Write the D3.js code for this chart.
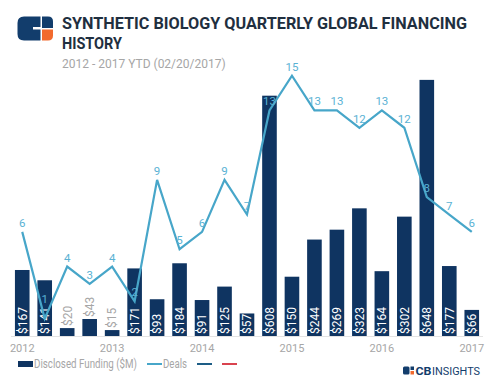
<!DOCTYPE html>
<html>
<head>
	<script src="https://cdn.jsdelivr.net/npm/d3@7"></script>
	<style>
		html, body {
			padding: 0;
			margin: 0;
			background: #fff;
		}
		text { font-family: Roboto, "Noto Sans", sans-serif; }
	</style>
</head>
<body>
	<script>
		var width = 489, height = 389;

		// data
		var quarters = ["2012 Q1", "2012 Q2", "2012 Q3", "2012 Q4",
		                "2013 Q1", "2013 Q2", "2013 Q3", "2013 Q4",
		                "2014 Q1", "2014 Q2", "2014 Q3", "2014 Q4",
		                "2015 Q1", "2015 Q2", "2015 Q3", "2015 Q4",
		                "2016 Q1", "2016 Q2", "2016 Q3", "2016 Q4",
		                "2017 Q1"];
		var funding = [167, 141, 20, 43, 15, 171, 93, 184, 91, 125, 57,
		               608, 150, 244, 269, 323, 164, 302, 648, 177, 66];
		var deals = [6, 1, 4, 3, 4, 2, 9, 5, 6, 9, 7,
		             13, 15, 13, 13, 12, 13, 12, 8, 7, 6];
		var yearTicks = ["2012 Q1", "2013 Q1", "2014 Q1", "2015 Q1", "2016 Q1", "2017 Q1"];

		var navy = "#0f3461",
		    lineBlue = "#47a6c9",
		    gray = "#a6a6a6";

		var svg = d3.select("body").append("svg")
			.attr("width", width)
			.attr("height", height);

		/* header */
		var logo = svg.append("g");
		logo.append("path")
			.attr("d", "M24,16.5 H40.5 V27 H33 V29.5 H40.5 V40.5 H24 Q17.5,40.5 17.5,34 V23 Q17.5,16.5 24,16.5 Z")
			.attr("fill", "#123d6c");
		logo.append("path")
			.attr("d", "M42,16.5 H48 Q53,16.5 53,21.5 V28 H42 Z")
			.attr("fill", "#123d6c");
		logo.append("path")
			.attr("d", "M42,29.5 H53 V35.5 Q53,40.5 48,40.5 H42 Z")
			.attr("fill", "#f26a2e");

		svg.append("text")
			.attr("x", 62).attr("y", 28.5)
			.attr("font-size", 16.5).attr("font-weight", "bold")
			.attr("fill", "#1f2f40")
			.attr("textLength", 405).attr("lengthAdjust", "spacingAndGlyphs")
			.text("SYNTHETIC BIOLOGY QUARTERLY GLOBAL FINANCING");
		svg.append("text")
			.attr("x", 62).attr("y", 48.5)
			.attr("font-size", 16.5).attr("font-weight", "bold")
			.attr("fill", "#1f2f40")
			.attr("textLength", 60).attr("lengthAdjust", "spacingAndGlyphs")
			.text("HISTORY");
		svg.append("text")
			.attr("x", 62).attr("y", 68)
			.attr("font-size", 12)
			.attr("fill", gray)
			.text("2012 - 2017 YTD (02/20/2017)");

		/* scales */
		var x = d3.scaleBand()
			.domain(quarters)
			.range([11, 483])
			.paddingInner(0.35)
			.paddingOuter(0.175);

		var yBar = d3.scaleLinear().domain([0, 673]).range([336, 70]);
		var yDeal = d3.scaleLinear().domain([0, 15.33]).range([336, 70]);

		var rows = quarters.map(function(q, i) {
			return { q: q, f: funding[i], d: deals[i] };
		});

		/* baseline */
		svg.append("line")
			.attr("x1", 11).attr("x2", 483)
			.attr("y1", 336.5).attr("y2", 336.5)
			.attr("stroke", "#e3e3e3");

		/* bars */
		svg.selectAll(".bar").data(rows).enter().append("rect")
			.attr("class", "bar")
			.attr("x", function(d) { return x(d.q); })
			.attr("y", function(d) { return yBar(d.f); })
			.attr("width", x.bandwidth())
			.attr("height", function(d) { return yBar(0) - yBar(d.f); })
			.attr("fill", navy);

		// bar labels: inside when they fit, gray above when not
		svg.selectAll(".blabel").data(rows).enter().append("text")
			.attr("class", "blabel")
			.attr("font-size", 12)
			.attr("transform", function(d) {
				var cx = x(d.q) + x.bandwidth() / 2;
				var h = yBar(0) - yBar(d.f);
				var by = h > 21 ? yBar(0) - 2 : yBar(d.f) - 2;
				return "translate(" + cx + "," + by + ") rotate(-90)";
			})
			.attr("dy", "0.36em")
			.attr("fill", function(d) { return (yBar(0) - yBar(d.f)) > 21 ? "#fff" : gray; })
			.text(function(d) { return "$" + d.f; });

		/* deals line */
		var line = d3.line()
			.x(function(d) { return x(d.q) + x.bandwidth() / 2; })
			.y(function(d) { return yDeal(d.d); });

		svg.append("path")
			.datum(rows)
			.attr("d", line)
			.attr("fill", "none")
			.attr("stroke", lineBlue)
			.attr("stroke-width", 2.2);

		svg.selectAll(".dlabel").data(rows).enter().append("text")
			.attr("class", "dlabel")
			.attr("x", function(d) { return x(d.q) + x.bandwidth() / 2; })
			.attr("y", function(d) { return yDeal(d.d) - (d.d < 2 ? 16 : 5); })
			.attr("text-anchor", "middle")
			.attr("font-size", 11.5)
			.attr("fill", "#5ab2d4")
			.text(function(d) { return d.d; });

		/* x axis */
		var xAxis = d3.axisBottom(x)
			.tickValues(yearTicks)
			.tickSize(0)
			.tickFormat(function(q) { return q.slice(0, 4); });

		var ax = svg.append("g")
			.attr("transform", "translate(0,341)")
			.call(xAxis);
		ax.select(".domain").remove();
		ax.selectAll("text")
			.attr("font-family", "Roboto, sans-serif")
			.attr("font-size", 11)
			.attr("fill", gray);

		/* legend */
		var lg = svg.append("g").attr("transform", "translate(0,364)");
		lg.append("rect").attr("x", 18).attr("y", -3).attr("width", 15).attr("height", 6).attr("fill", navy);
		lg.append("text").attr("x", 34).attr("y", 4).attr("font-size", 12).attr("fill", gray)
			.attr("textLength", 103).attr("lengthAdjust", "spacingAndGlyphs")
			.text("Disclosed Funding ($M)");
		lg.append("line").attr("x1", 147).attr("x2", 162).attr("y1", 0).attr("y2", 0)
			.attr("stroke", lineBlue).attr("stroke-width", 2);
		lg.append("text").attr("x", 163).attr("y", 4).attr("font-size", 12).attr("fill", gray)
			.attr("textLength", 24).attr("lengthAdjust", "spacingAndGlyphs")
			.text("Deals");
		lg.append("line").attr("x1", 197).attr("x2", 212).attr("y1", 0).attr("y2", 0)
			.attr("stroke", "#1d5d86").attr("stroke-width", 2);
		lg.append("line").attr("x1", 222).attr("x2", 237).attr("y1", 0).attr("y2", 0)
			.attr("stroke", "#d9434e").attr("stroke-width", 2);

		/* CB Insights mark */
		var cb = svg.append("g").attr("transform", "translate(403,366.5)");
		cb.append("rect").attr("x", 0).attr("y", 0).attr("width", 6.5).attr("height", 8).attr("rx", 1.5).attr("fill", "#123d6c");
		cb.append("rect").attr("x", 7.5).attr("y", 0).attr("width", 3.5).attr("height", 3.5).attr("fill", "#123d6c");
		cb.append("rect").attr("x", 7.5).attr("y", 4.5).attr("width", 3.5).attr("height", 3.5).attr("fill", "#f26a2e");
		cb.append("text").attr("x", 12.5).attr("y", 8).attr("font-size", 11.5)
			.attr("font-weight", "bold").attr("fill", "#123d6c")
			.attr("textLength", 16).attr("lengthAdjust", "spacingAndGlyphs")
			.text("CB");
		cb.append("text").attr("x", 29).attr("y", 8).attr("font-size", 11.5)
			.attr("fill", "#123d6c")
			.attr("textLength", 48).attr("lengthAdjust", "spacingAndGlyphs")
			.text("INSIGHTS");
	</script>
</body>
</html>
